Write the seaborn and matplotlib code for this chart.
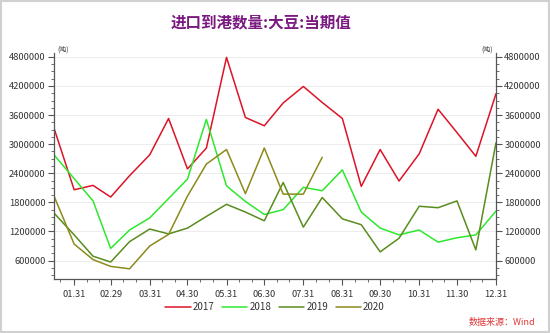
import matplotlib
matplotlib.use("Agg")
import matplotlib.pyplot as plt
import matplotlib.dates as mdates
import seaborn as sns
import pandas as pd
import numpy as np

sns.set_theme(style="white")
plt.rcParams['font.family'] = ['Noto Sans CJK SC', 'DejaVu Sans']

# Semi-monthly dates (plotted on a common leap-year calendar)
dates = ["01-15", "01-31", "02-15", "02-29", "03-15", "03-31", "04-15", "04-30",
         "05-15", "05-31", "06-15", "06-30", "07-15", "07-31", "08-15", "08-31",
         "09-15", "09-30", "10-15", "10-31", "11-15", "11-30", "12-15", "12-31"]

v2017 = [3330000, 2060000, 2150000, 1910000, 2350000, 2780000, 3530000, 2490000,
         2920000, 4790000, 3550000, 3380000, 3850000, 4190000, 3860000, 3530000,
         2130000, 2890000, 2240000, 2800000, 3720000, 3240000, 2750000, 4040000]
v2018 = [2780000, 2290000, 1830000, 850000, 1230000, 1480000, 1880000, 2280000,
         3510000, 2140000, 1820000, 1550000, 1650000, 2110000, 2040000, 2470000,
         1600000, 1270000, 1130000, 1230000, 980000, 1070000, 1130000, 1620000]
v2019 = [1580000, 1130000, 690000, 570000, 990000, 1250000, 1150000, 1270000,
         1510000, 1760000, 1600000, 1420000, 2210000, 1290000, 1900000, 1460000,
         1340000, 780000, 1060000, 1720000, 1690000, 1830000, 820000, 3030000]
v2020 = [1930000, 940000, 620000, 480000, 430000, 900000, 1140000, 1930000,
         2590000, 2890000, 1980000, 2920000, 1970000, 1970000, 2730000]

years = ["2017", "2018", "2019", "2020"]
series = [v2017, v2018, v2019, v2020]
colors = ["#dc1428", "#2ee82e", "#5a8c1e", "#8c8a1a"]

rows = []
for y, vals in zip(years, series):
    for d, v in zip(dates, vals):
        rows.append({"date": pd.Timestamp("2020-" + d), "value": v, "year": y})
df = pd.DataFrame(rows)

fig = plt.figure(figsize=(5.5, 3.33), dpi=100)
fig.patch.set_facecolor("white")
ax = fig.add_axes([54/550, 1-279/333, 442/550, 226/333])

sns.lineplot(data=df, x="date", y="value", hue="year", palette=dict(zip(years, colors)),
             linewidth=1.1, ax=ax, legend=False, estimator=None)

ylo, yhi = 220000, 4880000
ax.set_ylim(ylo, yhi)
ax.set_xlim(pd.Timestamp("2020-01-15"), pd.Timestamp("2020-12-31"))
yticks = [600000, 1200000, 1800000, 2400000, 3000000, 3600000, 4200000, 4800000]
ax.set_yticks(yticks)
ax.set_yticklabels([str(t) for t in yticks])
ax.set_yticks(np.arange(300000, 4880000, 150000), minor=True)
ax.yaxis.grid(True, color="#ececec", linewidth=0.7)
ax.set_axisbelow(True)

month_ends = [pd.Timestamp(2020, m, 1) + pd.offsets.MonthEnd(0) for m in range(1, 13)]
ax.set_xticks(month_ends)
ax.set_xticklabels([d.strftime("%m.%d") for d in month_ends])
minor = []
for m in range(1, 13):
    for day in (10, 20):
        t = pd.Timestamp(2020, m, day)
        if t >= pd.Timestamp("2020-01-15"):
            minor.append(t)
ax.set_xticks(minor, minor=True)

ax.set_xlabel("")
ax.set_ylabel("")
for s in ["top", "right"]:
    ax.spines[s].set_visible(False)
for s in ["left", "bottom"]:
    ax.spines[s].set_color("#555555")
    ax.spines[s].set_linewidth(0.9)
ax.tick_params(axis="both", which="major", length=4, width=0.8, color="#555555",
               labelsize=6.7, labelcolor="#333333", direction="out", pad=2, left=True, bottom=True)
ax.tick_params(axis="both", which="minor", length=2, width=0.6, color="#555555",
               direction="out", left=True, bottom=True)
ax.tick_params(axis="x", pad=4)

ax2 = ax.twinx()
ax2.set_ylim(ylo, yhi)
ax2.set_yticks(yticks)
ax2.set_yticklabels([str(t) for t in yticks])
ax2.set_yticks(np.arange(300000, 4880000, 150000), minor=True)
for s in ["top", "left", "bottom"]:
    ax2.spines[s].set_visible(False)
ax2.spines["right"].set_color("#555555")
ax2.spines["right"].set_linewidth(0.9)
ax2.tick_params(axis="y", which="major", length=4, width=0.8, color="#555555",
                labelsize=6.7, labelcolor="#333333", direction="out", pad=2, right=True)
ax2.tick_params(axis="y", which="minor", length=2, width=0.6, color="#555555",
                direction="out", right=True)
ax2.grid(False)

fig.text(57/550, 1-50/333, "(吨)", fontsize=5, color="#333333", ha="left", va="center")
fig.text(493/550, 1-50/333, "(吨)", fontsize=5, color="#333333", ha="right", va="center")

fig.text(261/550, 1-22/333, "进口到港数量:大豆:当期值", fontsize=11.2, fontweight="bold",
         color="#7a1a80", ha="center", va="center")

from matplotlib.lines import Line2D
handles = [Line2D([0], [0], color=c, lw=1.1) for c in colors]
fig.legend(handles, years, loc="center", bbox_to_anchor=(275/550, 1-307/333), ncol=4,
           frameon=False, fontsize=7, handlelength=2.6, handletextpad=0.2,
           columnspacing=0.8, labelcolor="#333333")

fig.text(535/550, 1-323/333, "数据来源：Wind", fontsize=6.5, color="#e03a3a",
         style="italic", ha="right", va="center")

# outer frame
fig.add_artist(plt.Rectangle((0.002, 0.004), 0.996, 0.992, transform=fig.transFigure,
                             fill=False, edgecolor="#d0d0d0", linewidth=1.5))

fig.savefig("out.png", dpi=100)
